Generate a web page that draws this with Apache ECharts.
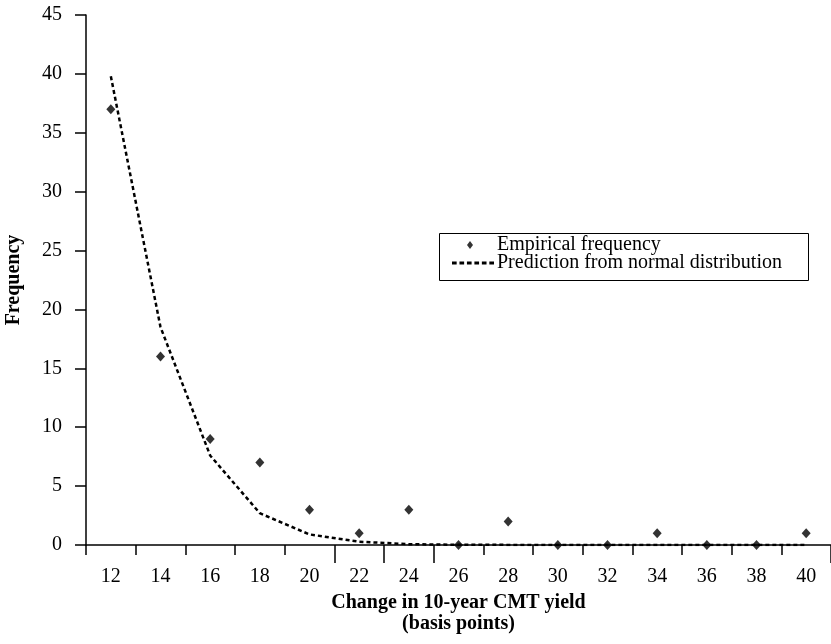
<!DOCTYPE html>
<html>
<head>
<meta charset="utf-8">
<script src="https://cdn.jsdelivr.net/npm/echarts@6/dist/echarts.min.js"></script>
<style>html,body{margin:0;padding:0;background:#fff;}#c{width:831px;height:644px;}</style>
</head>
<body>
<div id="c"></div>
<script>
const categories = ['12','14','16','18','20','22','24','26','28','30','32','34','36','38','40'];
const empirical = [37, 16, 9, 7, 3, 1, 3, 0, 2, 0, 0, 1, 0, 0, 1];
const normalPred = [39.8, 18.5, 7.6, 2.7, 0.9, 0.28, 0.07, 0.02, 0.01, 0, 0, 0, 0, 0, 0];
const yTicks = [0, 5, 10, 15, 20, 25, 30, 35, 40, 45];
const seriesNames = ['Empirical frequency', 'Prediction from normal distribution'];

const FONT = '"Liberation Serif", "DejaVu Serif", serif';
const DASH_ICON = 'path://M0,0h5v3h-5z M8,0h5v3h-5z M16,0h5v3h-5z M24,0h5v3h-5z M32,0h5v3h-5z M40,0h5v3h-5z';
const chart = echarts.init(document.getElementById('c'), null, {renderer: 'canvas'});
chart.setOption({
  animation: false,
  backgroundColor: '#fff',
  textStyle: {fontFamily: FONT, color: '#000'},
  grid: {left: 86, right: 0, top: 15, bottom: 99, containLabel: false, outerBoundsMode: 'none'},
  graphic: [{
    type: 'rect',
    left: 437, top: 231,
    shape: {width: 369, height: 47},
    style: {fill: 'none', stroke: '#000', lineWidth: 1},
    z: 10
  }],
  legend: [{
    orient: 'vertical',
    left: 467, top: 235,
    padding: 0,
    itemWidth: 6, itemHeight: 8,
    textStyle: {fontFamily: FONT, fontSize: 20, color: '#000', padding: [0, 0, 0, 19]},
    data: [{name: seriesNames[0], icon: 'diamond', itemStyle: {color: '#000'}}]
  }, {
    orient: 'vertical',
    left: 452, top: 253,
    padding: 0,
    itemWidth: 42, itemHeight: 3,
    textStyle: {fontFamily: FONT, fontSize: 20, color: '#000', padding: [0, 0, 0, -2]},
    data: [{name: seriesNames[1], icon: DASH_ICON, itemStyle: {color: '#000', borderWidth: 0}}]
  }],
  xAxis: [{
    type: 'category',
    data: categories,
    boundaryGap: true,
    name: 'Change in 10-year CMT yield\n(basis points)',
    nameLocation: 'middle',
    nameGap: 46,
    nameTextStyle: {fontFamily: FONT, fontSize: 20, fontWeight: 'bold', color: '#000', lineHeight: 21},
    axisLine: {lineStyle: {color: '#000', width: 1.5}},
    axisTick: {show: true, length: 10, lineStyle: {color: '#000', width: 1.5}},
    axisLabel: {fontFamily: FONT, fontSize: 20, color: '#000', margin: 22, interval: 0},
    splitLine: {show: false}
  }, {
    type: 'category',
    data: categories,
    boundaryGap: true,
    position: 'bottom',
    axisLine: {show: false},
    axisLabel: {show: false},
    axisTick: {show: true, length: 18, interval: function (i) { return i === 5 || i === 6 || i === 7; }, lineStyle: {color: '#000', width: 1.5}},
    splitLine: {show: false}
  }],
  yAxis: {
    type: 'value',
    min: 0, max: 45, interval: 5,
    name: 'Frequency',
    nameLocation: 'middle',
    nameGap: 62,
    nameTextStyle: {fontFamily: FONT, fontSize: 20, fontWeight: 'bold', color: '#000'},
    axisLine: {show: true, lineStyle: {color: '#000', width: 1.5}},
    axisTick: {show: true, length: 11, lineStyle: {color: '#000', width: 1.5}},
    axisLabel: {fontFamily: FONT, fontSize: 20, color: '#000', margin: 24,
      formatter: function (v) { return yTicks.indexOf(v) >= 0 ? String(v) : ''; }},
    splitLine: {show: false}
  },
  series: [{
    name: seriesNames[1],
    type: 'line',
    data: normalPred,
    symbol: 'none',
    smooth: false,
    lineStyle: {color: '#000', width: 2.5, type: [4, 3]},
    itemStyle: {color: '#000'},
    z: 2
  }, {
    name: seriesNames[0],
    type: 'scatter',
    data: empirical,
    symbol: 'diamond',
    symbolSize: [9, 10],
    itemStyle: {color: '#000'},
    z: 3
  }]
});
</script>
</body>
</html>
